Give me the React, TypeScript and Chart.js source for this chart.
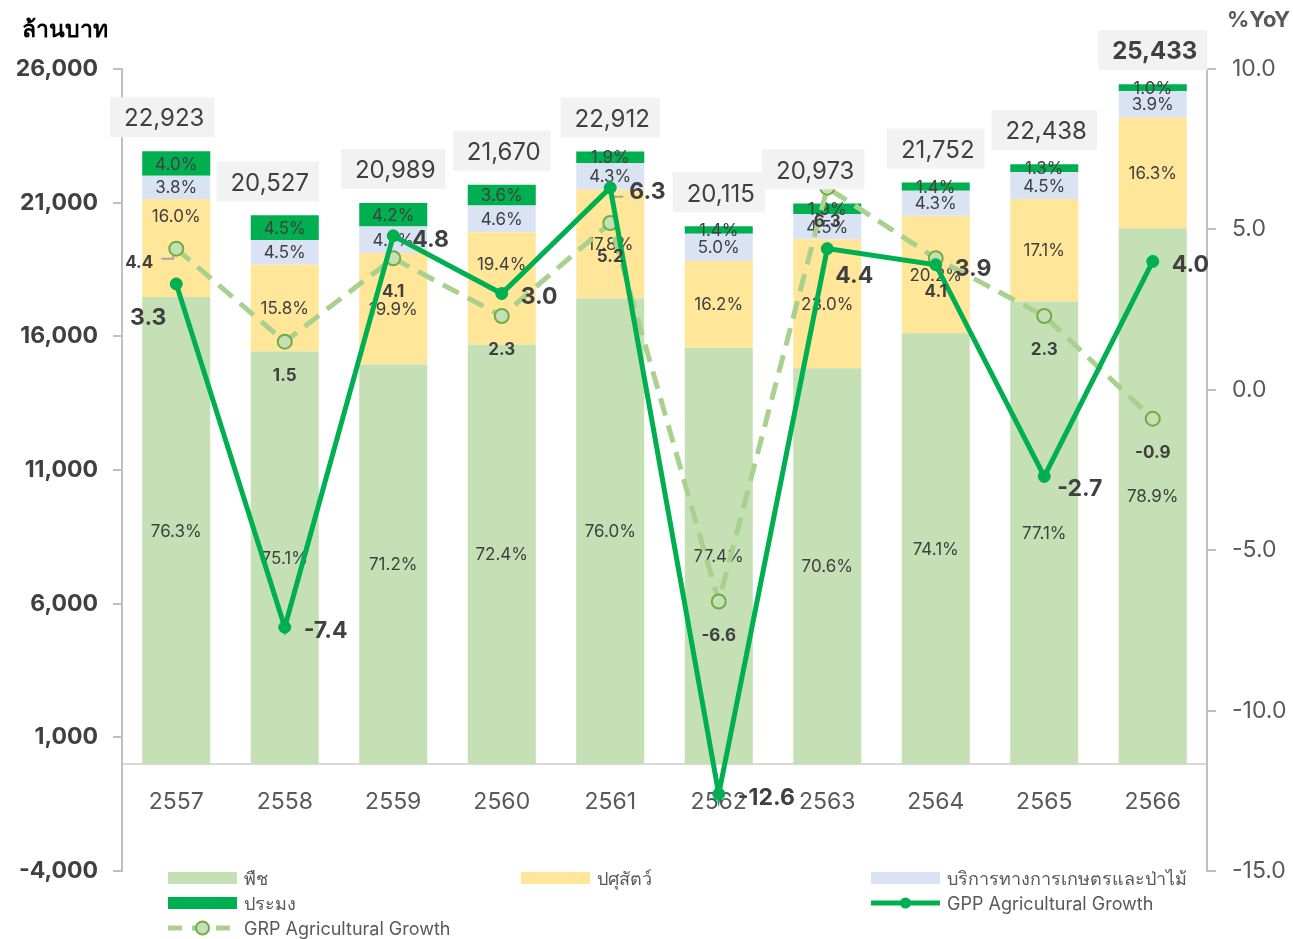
import React, { useEffect, useRef } from 'react';
import { Chart, registerables } from 'chart.js';

Chart.register(...registerables);

const FONT = 'Inter, "Noto Sans", sans-serif';

// ---- data ----
const years = ['2557', '2558', '2559', '2560', '2561', '2562', '2563', '2564', '2565', '2566'];
const totals = [22923, 20527, 20989, 21670, 22912, 20115, 20973, 21752, 22438, 25433];
const cropPct = [76.3, 75.1, 71.2, 72.4, 76.0, 77.4, 70.6, 74.1, 77.1, 78.9];
const livestockPct = [16.0, 15.8, 19.9, 19.4, 17.8, 16.2, 23.0, 20.2, 17.1, 16.3];
const servicePct = [3.8, 4.5, 4.7, 4.6, 4.3, 5.0, 4.5, 4.3, 4.5, 3.9];
const fisheryPct = [4.0, 4.5, 4.2, 3.6, 1.9, 1.4, 1.9, 1.4, 1.3, 1.0];
const gppGrowth = [3.3, -7.4, 4.8, 3.0, 6.3, -12.6, 4.4, 3.9, -2.7, 4.0];
const grpGrowth = [4.4, 1.5, 4.1, 2.3, 5.2, -6.6, 6.3, 4.1, 2.3, -0.9];

const seriesNames = ['พืช', 'ปศุสัตว์', 'บริการทางการเกษตรและป่าไม้', 'ประมง'];
const gppName = 'GPP Agricultural Growth';
const grpName = 'GRP Agricultural Growth';
const leftTitle = 'ล้านบาท';
const rightTitle = '%YoY';

// ---- styles ----
const COLORS = ['#C5E0B4', '#FFE699', '#DAE3F3', '#00B050'];
const GPP_COLOR = '#00B050';
const GRP_COLOR = '#A9D18E';
const GRP_POINT_BORDER = '#70AD47';
const TEXT_DARK = '#404040';
const TEXT_GREY = '#595959';
const AXIS_GREY = '#BFBFBF';
const TY = 1; // small vertical text correction

// label style tweaks (offsets in px relative to the element)
const pctLabelShift: Record<number, Record<number, number>> = { 1: { 0: -32, 3: -25 } };
const totalBoxShift: Record<number, number> = { 0: -14, 1: -17, 6: -14 };
const gppLabelStyle: Record<number, { dx: number; dy: number; align: CanvasTextAlign }> = {
  0: { dx: -28, dy: 33, align: 'center' },
  6: { dx: 8, dy: 26, align: 'left' },
  8: { dx: 13, dy: 12, align: 'left' },
};
const grpLabelStyle: Record<number, { dx: number; dy: number; align: CanvasTextAlign }> = {
  0: { dx: -37, dy: 13, align: 'center' },
};

const pctSeries = [cropPct, livestockPct, servicePct, fisheryPct];

function fmtThousands(v: number) {
  return Math.round(v).toLocaleString('en-US');
}

const customPlugin = {
  id: 'customLabels',
  afterDatasetDraw(chart: any, args: any) {
    if (args.index !== 0) return;
    const ctx: CanvasRenderingContext2D = chart.ctx;
    ctx.save();
    ctx.font = `17px ${FONT}`;
    ctx.fillStyle = TEXT_DARK;
    ctx.textAlign = 'center';
    ctx.textBaseline = 'middle';
    pctSeries.forEach((pcts, d) => {
      const meta = chart.getDatasetMeta(d);
      meta.data.forEach((el: any, i: number) => {
        const off = pctLabelShift[d]?.[i] ?? 0;
        ctx.fillText(pcts[i].toFixed(1) + '%', el.x, (el.y + el.base) / 2 + off + TY);
      });
    });
    // leader lines
    ctx.strokeStyle = '#A6A6A6';
    ctx.lineWidth = 2;
    const grpMeta = chart.getDatasetMeta(4);
    const gppMeta = chart.getDatasetMeta(5);
    const p0 = grpMeta.data[0];
    if (p0) {
      ctx.beginPath();
      ctx.moveTo(p0.x - 15, p0.y + 10);
      ctx.lineTo(p0.x - 3, p0.y + 10);
      ctx.lineTo(p0.x - 3, p0.y + 2);
      ctx.stroke();
    }
    const p4 = gppMeta.data[4];
    if (p4) {
      ctx.beginPath();
      ctx.moveTo(p4.x + 1, p4.y);
      ctx.lineTo(p4.x + 1, p4.y + 9);
      ctx.lineTo(p4.x + 13, p4.y + 9);
      ctx.stroke();
    }
    ctx.restore();
  },
  afterDatasetsDraw(chart: any) {
    const ctx: CanvasRenderingContext2D = chart.ctx;
    ctx.save();
    // total boxes
    const topMeta = chart.getDatasetMeta(3);
    topMeta.data.forEach((el: any, i: number) => {
      const bold = i === totals.length - 1;
      ctx.font = `${bold ? 'bold ' : ''}24px ${FONT}`;
      const txt = fmtThousands(totals[i]);
      const w = ctx.measureText(txt).width + 24;
      const h = 40;
      const cx = el.x + (totalBoxShift[i] ?? 0);
      const bottom = el.y - 14;
      ctx.fillStyle = '#F2F2F2';
      ctx.fillRect(cx - w / 2, bottom - h, w, h);
      ctx.fillStyle = TEXT_DARK;
      ctx.textAlign = 'center';
      ctx.textBaseline = 'middle';
      ctx.fillText(txt, cx + 2, bottom - h / 2 + 1 + TY);
    });
    // GRP labels
    ctx.fillStyle = TEXT_DARK;
    ctx.textBaseline = 'middle';
    ctx.font = `bold 17px ${FONT}`;
    chart.getDatasetMeta(4).data.forEach((el: any, i: number) => {
      const s = grpLabelStyle[i] ?? { dx: 0, dy: 33, align: 'center' as CanvasTextAlign };
      ctx.textAlign = s.align;
      ctx.fillText(grpGrowth[i].toFixed(1), el.x + s.dx, el.y + s.dy + TY);
    });
    // GPP labels
    ctx.font = `bold 23px ${FONT}`;
    chart.getDatasetMeta(5).data.forEach((el: any, i: number) => {
      const s = gppLabelStyle[i] ?? { dx: 19, dy: 3, align: 'left' as CanvasTextAlign };
      ctx.textAlign = s.align;
      ctx.fillText(gppGrowth[i].toFixed(1), el.x + s.dx, el.y + s.dy + TY);
    });
    ctx.restore();
  },
  afterDraw(chart: any) {
    const ctx: CanvasRenderingContext2D = chart.ctx;
    const area = chart.chartArea;
    ctx.save();
    // axis titles
    ctx.textBaseline = 'middle';
    ctx.font = `bold 23px ${FONT}`;
    ctx.fillStyle = '#000000';
    ctx.textAlign = 'left';
    ctx.fillText(leftTitle, 22, 30);
    ctx.font = `bold 22px ${FONT}`;
    ctx.fillStyle = TEXT_GREY;
    ctx.textAlign = 'right';
    ctx.fillText(rightTitle, 1290, 20);

    // legend
    const c1 = 168, c2 = 521, c3 = 871;
    const r1 = area.bottom + 7, r2 = area.bottom + 32, r3 = area.bottom + 57;
    const sw = 69;
    ctx.font = `18px ${FONT}`;
    ctx.textAlign = 'left';
    const text = (t: string, x: number, y: number) => {
      ctx.fillStyle = TEXT_GREY;
      ctx.fillText(t, x + sw + 7, y + 1 + TY);
    };
    const rect = (x: number, y: number, color: string) => {
      ctx.fillStyle = color;
      ctx.fillRect(x, y - 6, sw, 12);
    };
    rect(c1, r1, COLORS[0]);
    text(seriesNames[0], c1, r1);
    rect(c2, r1, COLORS[1]);
    text(seriesNames[1], c2, r1);
    rect(c3, r1, COLORS[2]);
    text(seriesNames[2], c3, r1);
    rect(c1, r2, COLORS[3]);
    text(seriesNames[3], c1, r2);
    // GPP legend
    ctx.strokeStyle = GPP_COLOR;
    ctx.lineWidth = 5;
    ctx.beginPath();
    ctx.moveTo(c3, r2);
    ctx.lineTo(c3 + sw, r2);
    ctx.stroke();
    ctx.fillStyle = GPP_COLOR;
    ctx.beginPath();
    ctx.arc(c3 + sw / 2, r2, 5.5, 0, Math.PI * 2);
    ctx.fill();
    text(gppName, c3, r2);
    // GRP legend
    ctx.strokeStyle = GRP_COLOR;
    ctx.lineWidth = 5;
    ctx.setLineDash([14, 10]);
    ctx.beginPath();
    ctx.moveTo(c1, r3);
    ctx.lineTo(c1 + sw, r3);
    ctx.stroke();
    ctx.setLineDash([]);
    ctx.fillStyle = COLORS[0];
    ctx.strokeStyle = GRP_POINT_BORDER;
    ctx.lineWidth = 2;
    ctx.beginPath();
    ctx.arc(c1 + sw / 2, r3, 6.5, 0, Math.PI * 2);
    ctx.fill();
    ctx.stroke();
    text(grpName, c1, r3);
    ctx.restore();
  },
};

export default function App() {
  const ref = useRef<HTMLCanvasElement>(null);
  useEffect(() => {
    document.body.style.margin = '0';
    const sums = years.map((_, i) => cropPct[i] + livestockPct[i] + servicePct[i] + fisheryPct[i]);
    const seg = (pct: number[]) => pct.map((p, i) => (totals[i] * p) / sums[i]);
    const barDs = pctSeries.map((pcts, d) => ({
      type: 'bar' as const,
      label: seriesNames[d],
      data: seg(pcts),
      backgroundColor: COLORS[d],
      borderWidth: 0,
      yAxisID: 'y',
      stack: 'total',
      order: 3,
      barPercentage: 0.627,
      categoryPercentage: 1,
    }));
    const chart = new Chart(ref.current as HTMLCanvasElement, {
      type: 'bar',
      data: {
        labels: years,
        datasets: [
          ...barDs,
          {
            type: 'line',
            label: grpName,
            data: grpGrowth,
            yAxisID: 'y1',
            borderColor: GRP_COLOR,
            borderWidth: 5,
            borderDash: [18, 10],
            pointRadius: 7,
            pointBackgroundColor: COLORS[0],
            pointBorderColor: GRP_POINT_BORDER,
            pointBorderWidth: 2,
            tension: 0,
            order: 2,
          } as any,
          {
            type: 'line',
            label: gppName,
            data: gppGrowth,
            yAxisID: 'y1',
            borderColor: GPP_COLOR,
            borderWidth: 5,
            pointRadius: 6,
            pointBackgroundColor: GPP_COLOR,
            pointBorderColor: GPP_COLOR,
            pointBorderWidth: 1,
            tension: 0,
            order: 1,
          } as any,
        ],
      },
      options: {
        responsive: false,
        animation: false,
        devicePixelRatio: 1,
        layout: { padding: { top: 69, bottom: 68, left: 0, right: 0 } },
        plugins: {
          legend: { display: false },
          tooltip: { enabled: false },
        },
        scales: {
          x: {
            type: 'category',
            stacked: true,
            position: { y: 0 } as any,
            grid: { display: false, drawTicks: false },
            border: { display: true, color: '#D9D9D9', width: 2 },
            ticks: {
              font: { family: FONT, size: 23 },
              color: TEXT_GREY,
              padding: 24,
              maxRotation: 0,
              autoSkip: false,
            },
          },
          y: {
            type: 'linear',
            position: 'left',
            stacked: true,
            min: -4000,
            max: 26000,
            afterFit: (s: any) => {
              s.width = 122;
            },
            ticks: {
              stepSize: 5000,
              font: { family: FONT, size: 23, weight: 'bold' },
              color: TEXT_DARK,
              padding: 15,
              callback: (v: any) => fmtThousands(Number(v)),
            },
            grid: { drawOnChartArea: false, drawTicks: true, tickLength: 9, color: AXIS_GREY, lineWidth: 2 },
            border: { display: true, color: AXIS_GREY, width: 2 },
          },
          y1: {
            type: 'linear',
            position: 'right',
            min: -15,
            max: 10,
            afterFit: (s: any) => {
              s.width = 86;
            },
            ticks: {
              stepSize: 5,
              font: { family: FONT, size: 23 },
              color: TEXT_GREY,
              padding: 16,
              callback: (v: any) => Number(v).toFixed(1),
            },
            grid: { drawOnChartArea: false, drawTicks: true, tickLength: 9, color: AXIS_GREY, lineWidth: 2 },
            border: { display: true, color: AXIS_GREY, width: 2 },
          },
        },
      } as any,
      plugins: [customPlugin as any],
    });
    return () => chart.destroy();
  }, []);
  return (
    <div style={{ width: 1293, height: 939, overflow: 'hidden' }}>
      <canvas ref={ref} width={1293} height={939} style={{ display: 'block', width: 1293, height: 939 }} />
    </div>
  );
}
